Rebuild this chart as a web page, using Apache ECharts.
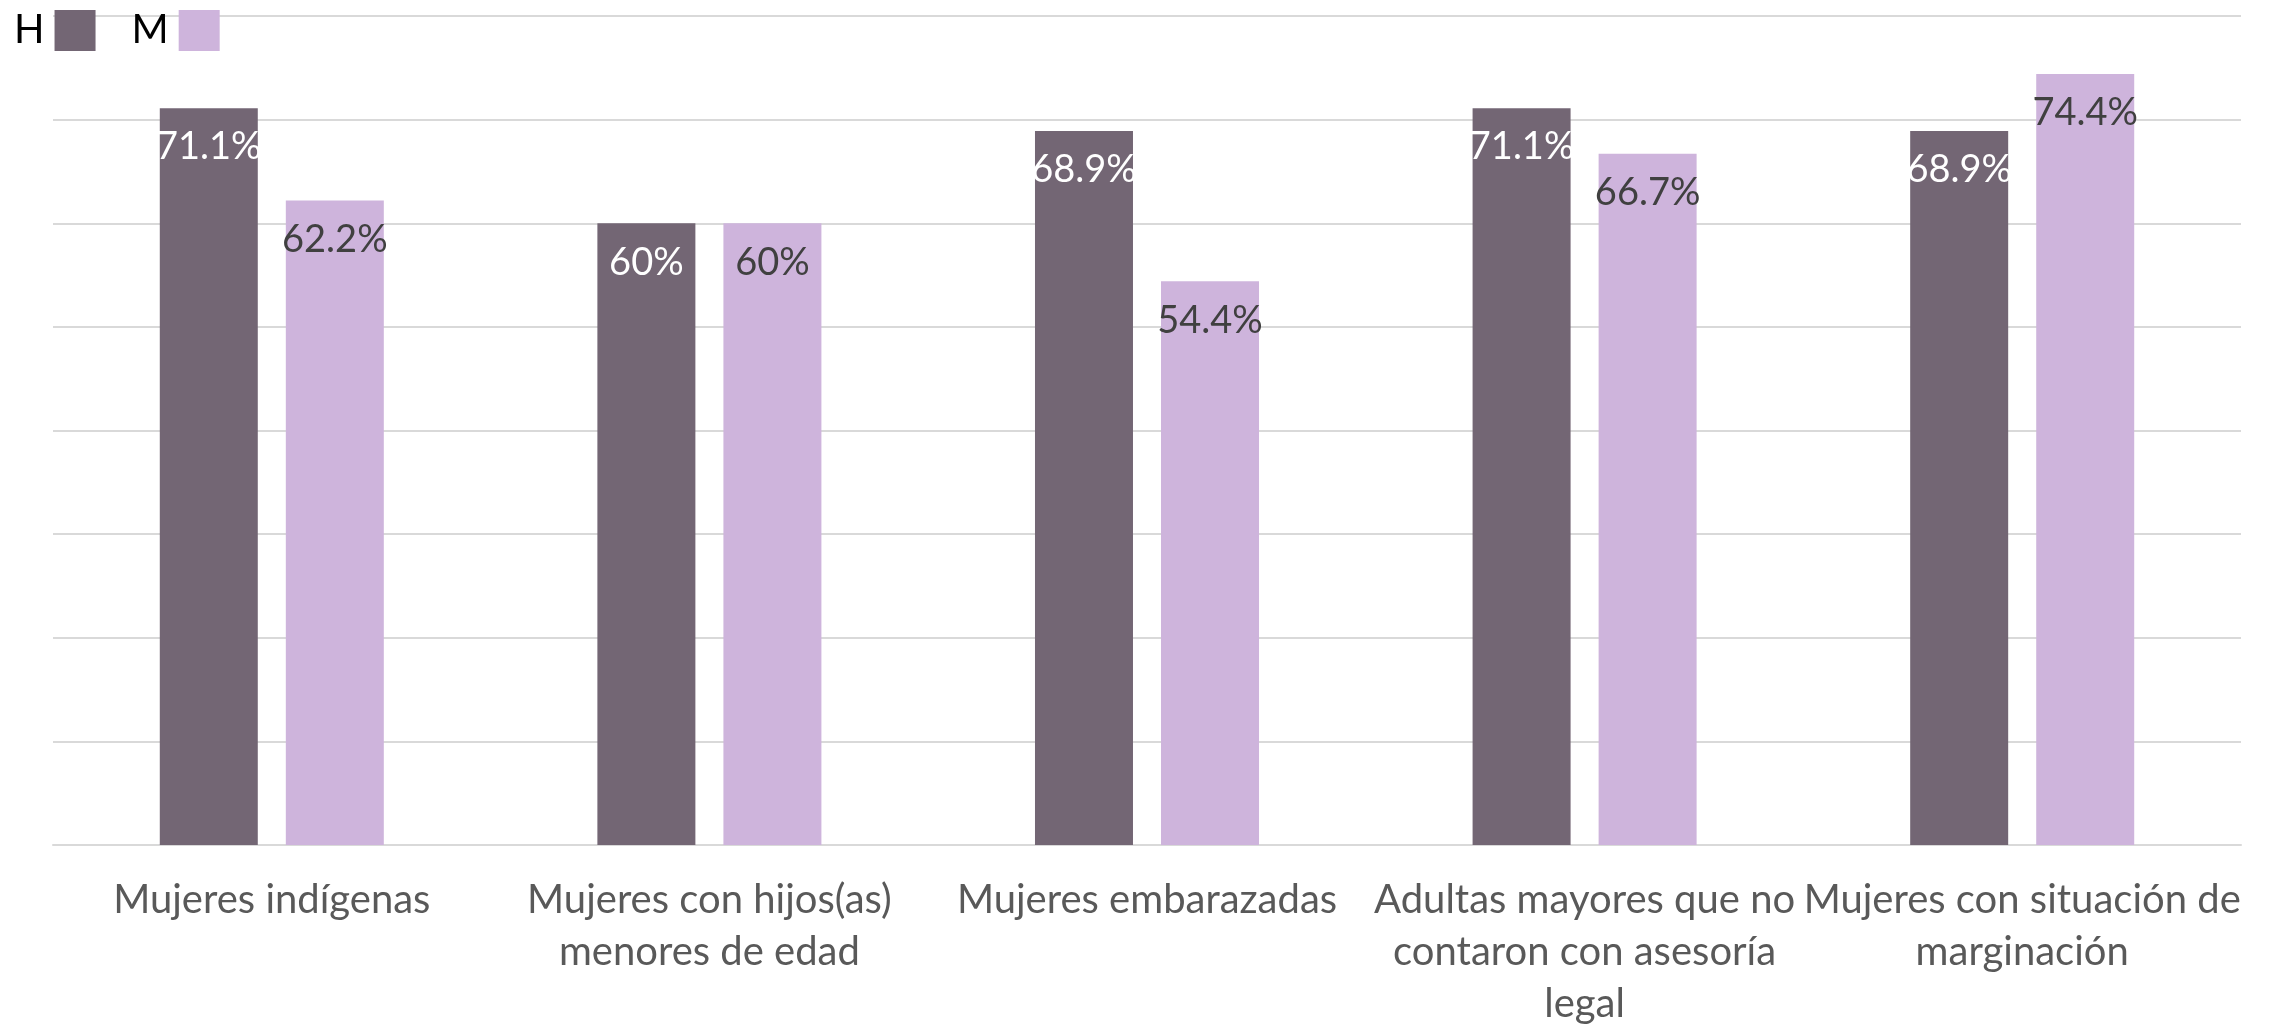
<!DOCTYPE html>
<html>
<head>
<meta charset="utf-8">
<script src="https://cdn.jsdelivr.net/npm/echarts@6/dist/echarts.min.js"></script>
<style>
html,body{margin:0;padding:0;background:#fff;}
#chart{width:2270px;height:1030px;}
</style>
</head>
<body>
<div id="chart"></div>
<script>
const categories = [
  'Mujeres indígenas',
  'Mujeres con hijos(as)\nmenores de edad',
  'Mujeres embarazadas',
  'Adultas mayores que no\ncontaron con asesoría\nlegal',
  'Mujeres con situación de\nmarginación'
];
const seriesNames = ['H', 'M'];
const valuesH = [71.1, 60, 68.9, 71.1, 68.9];
const valuesM = [62.2, 60, 54.4, 66.7, 74.4];
const yTicks = [0, 10, 20, 30, 40, 50, 60, 70, 80];

const FONT = 'Lato';
const chart = echarts.init(document.getElementById('chart'));
chart.setOption({
  backgroundColor: '#ffffff',
  animation: false,
  legend: {
    data: seriesNames,
    left: 9,
    top: 5,
    align: 'right',
    icon: 'rect',
    itemWidth: 41,
    itemHeight: 41,
    itemGap: 36,
    textStyle: { fontFamily: FONT, fontSize: 40, color: '#000000', padding: [0, 5, 0, 0] }
  },
  grid: { left: 53, right: 29, top: 16, bottom: 179, containLabel: false },
  xAxis: {
    type: 'category',
    data: categories,
    axisTick: { show: false },
    axisLine: { lineStyle: { color: '#D9D9D9', width: 2 } },
    axisLabel: {
      interval: 0,
      margin: 29,
      fontFamily: FONT,
      fontSize: 40,
      lineHeight: 52,
      color: '#595959'
    }
  },
  yAxis: {
    type: 'value',
    min: yTicks[0],
    max: yTicks[yTicks.length - 1],
    interval: 10,
    axisLabel: { show: false },
    axisLine: { show: false },
    axisTick: { show: false },
    splitLine: { lineStyle: { color: '#D9D9D9', width: 2 } }
  },
  series: [
    {
      name: seriesNames[0],
      type: 'bar',
      data: valuesH,
      barWidth: 98,
      barGap: '28.6%',
      itemStyle: { color: '#736674' },
      label: {
        show: true,
        position: 'insideTop',
        distance: 20,
        formatter: p => p.value + '%',
        fontFamily: FONT,
        fontSize: 38,
        color: '#ffffff'
      }
    },
    {
      name: seriesNames[1],
      type: 'bar',
      data: valuesM,
      barWidth: 98,
      itemStyle: { color: '#CEB4DC' },
      label: {
        show: true,
        position: 'insideTop',
        distance: 20,
        formatter: p => p.value + '%',
        fontFamily: FONT,
        fontSize: 38,
        color: '#404040'
      }
    }
  ]
});
</script>
</body>
</html>
